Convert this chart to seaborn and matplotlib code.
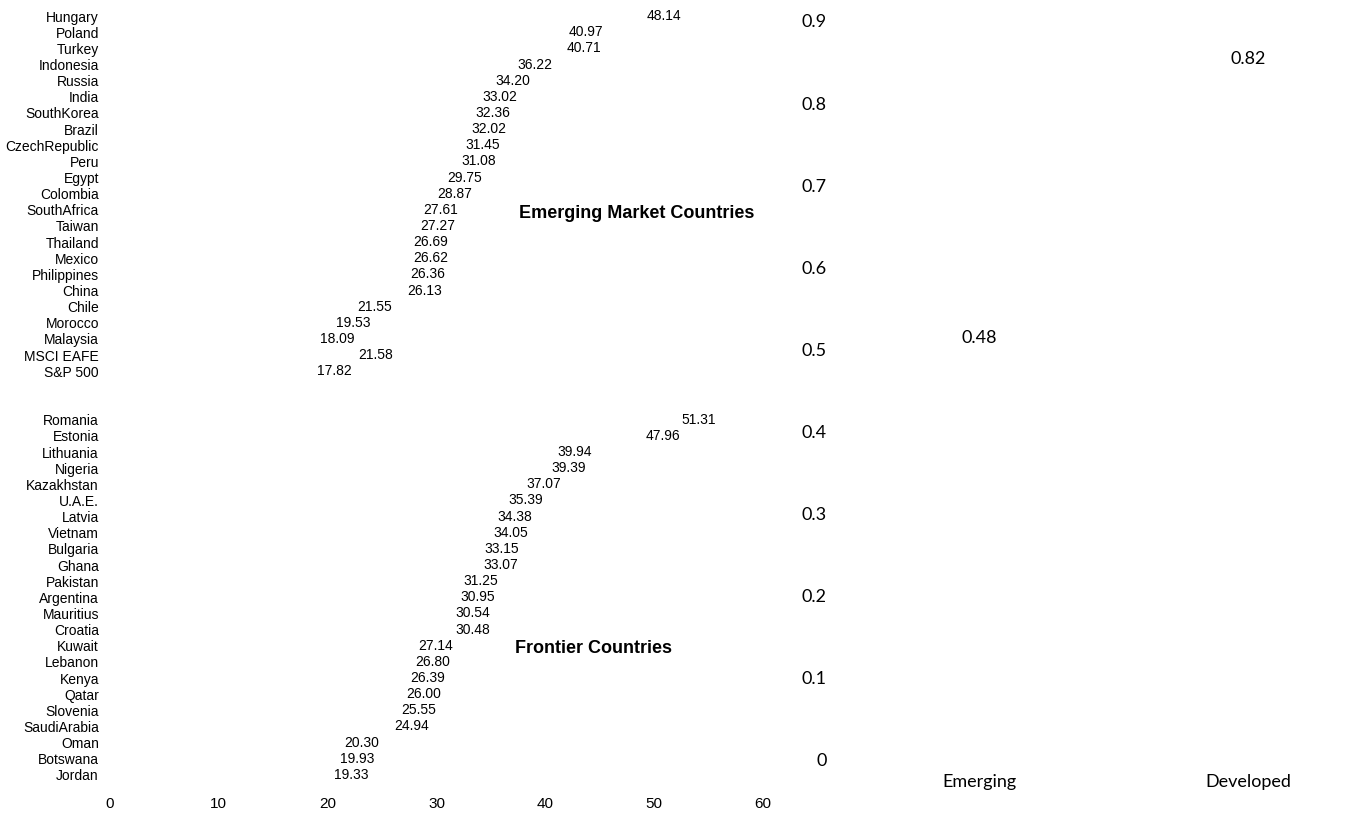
"""
P/E style bar chart: emerging vs frontier countries, plus a small emerging/developed panel
"""

import matplotlib.pyplot as plt
import numpy as np
import pandas as pd
import seaborn as sns

emerging = ['Hungary', 'Poland', 'Turkey', 'Indonesia', 'Russia', 'India', 'SouthKorea', 'Brazil',
            'CzechRepublic', 'Peru', 'Egypt', 'Colombia', 'SouthAfrica', 'Taiwan', 'Thailand', 'Mexico',
            'Philippines', 'China', 'Chile', 'Morocco', 'Malaysia', 'MSCI EAFE', 'S&P 500']
emerging_vals = [48.14, 40.97, 40.71, 36.22, 34.20, 33.02, 32.36, 32.02, 31.45, 31.08, 29.75, 28.87,
                 27.61, 27.27, 26.69, 26.62, 26.36, 26.13, 21.55, 19.53, 18.09, 21.58, 17.82]

frontier = ['Romania', 'Estonia', 'Lithuania', 'Nigeria', 'Kazakhstan', 'U.A.E.', 'Latvia', 'Vietnam',
            'Bulgaria', 'Ghana', 'Pakistan', 'Argentina', 'Mauritius', 'Croatia', 'Kuwait', 'Lebanon',
            'Kenya', 'Qatar', 'Slovenia', 'SaudiArabia', 'Oman', 'Botswana', 'Jordan']
frontier_vals = [51.31, 47.96, 39.94, 39.39, 37.07, 35.39, 34.38, 34.05, 33.15, 33.07, 31.25, 30.95,
                 30.54, 30.48, 27.14, 26.80, 26.39, 26.00, 25.55, 24.94, 20.30, 19.93, 19.33]

groups = ['Emerging', 'Developed']
group_vals = [0.48, 0.82]

df = pd.DataFrame({'country': emerging + frontier, 'value': emerging_vals + frontier_vals})
order = emerging + [' ', '  '] + frontier  # two blank slots separate the sections

sns.set_theme(style='white')
plt.rcParams['font.family'] = ['Liberation Sans', 'DejaVu Sans']
plt.rcParams['text.color'] = 'black'
plt.rcParams['xtick.color'] = 'black'
plt.rcParams['ytick.color'] = 'black'

fig = plt.figure(figsize=(13.55, 8.18), dpi=100)

# left panel
ax = fig.add_axes([110 / 1355, 1 - 783 / 818, 653 / 1355, 775 / 818])
sns.barplot(data=df, x='value', y='country', order=order, orient='h', color='white',
            width=0.6, ax=ax)
ax.bar_label(ax.containers[0], fmt='%.2f', padding=9.5, fontsize=10, color='black')
ax.set_xlim(0, 60)
ax.set_ylim(47.5, -0.5)
ax.set_xticks(np.arange(0, 61, 10))
ax.set(xlabel='', ylabel='')
ax.tick_params(axis='y', length=0, pad=8, labelsize=10)
ax.tick_params(axis='x', length=0, pad=10, labelsize=11)
for s in ax.spines.values():
    s.set_visible(False)
ax.text(48.4, 12.2, 'Emerging Market Countries', ha='center', va='center',
        fontsize=13, fontweight='bold')
ax.text(44.4, 39.2, 'Frontier Countries', ha='center', va='center',
        fontsize=13, fontweight='bold')

# right panel
ax2 = fig.add_axes([845 / 1355, 1 - 760 / 818, 510 / 1355, 739 / 818])
sns.barplot(x=groups, y=group_vals, color='white', ax=ax2)
ax2.bar_label(ax2.containers[0], fmt='%.2f', padding=14, fontsize=13, color='black',
              family=['Lato', 'DejaVu Sans'])
ax2.set_xlim(-0.5, 1.396)
ax2.set_ylim(0, 0.9)
ax2.set_yticks(np.arange(0, 0.91, 0.1))
ax2.set_yticklabels(['0'] + [f'{v:.1f}' for v in np.arange(0.1, 0.91, 0.1)])
ax2.tick_params(length=0, labelsize=13)
ax2.tick_params(axis='y', pad=13)
ax2.tick_params(axis='x', pad=10)
for lab in ax2.get_xticklabels() + ax2.get_yticklabels():
    lab.set_family(['Lato', 'DejaVu Sans'])
for s in ax2.spines.values():
    s.set_visible(False)

plt.savefig('out.png', dpi=100)
